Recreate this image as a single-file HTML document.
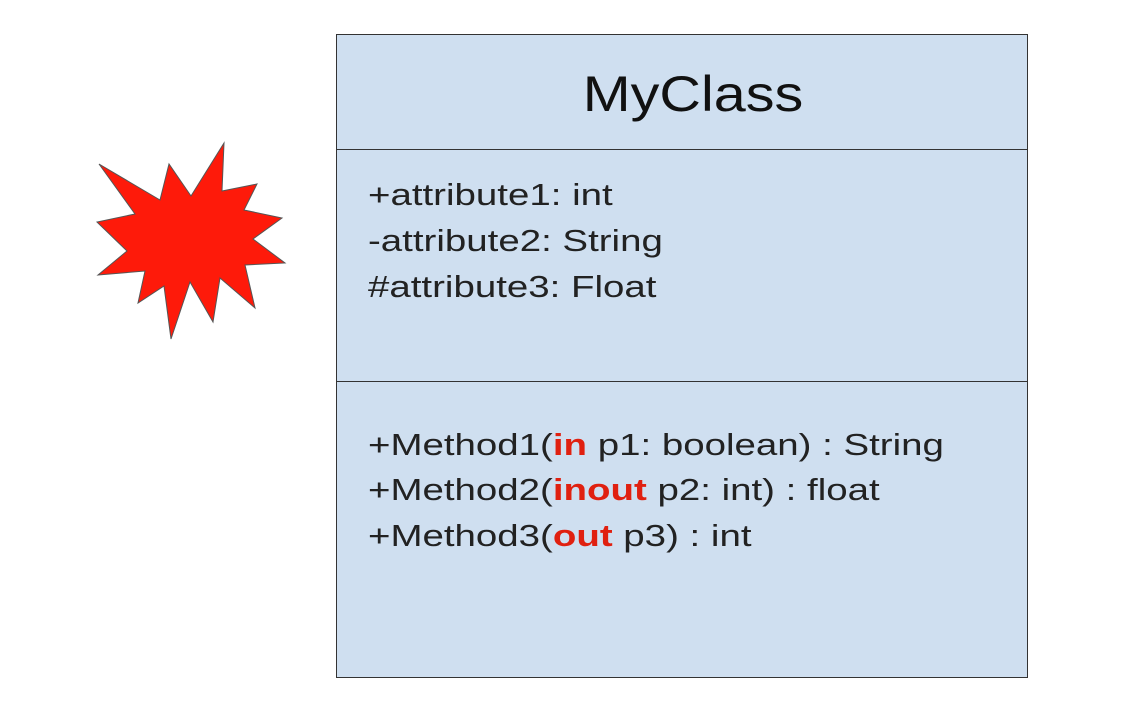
<!DOCTYPE html>
<html><head><style>
body{margin:0;width:1137px;height:711px;background:#fff;position:relative;overflow:hidden;font-family:"Liberation Sans",sans-serif;}
#box{position:absolute;left:336px;top:34px;width:690px;height:642px;background:#cfdff0;border:1px solid #333;}
.h{position:absolute;left:0;width:690px;height:1px;background:#333;}
.t{position:absolute;left:11px;width:690px;text-align:center;font-size:50px;color:#111;line-height:1;transform:scaleX(1.15);transform-origin:345px 0;}
.l{position:absolute;left:31px;font-size:31px;color:#222;line-height:1;white-space:nowrap;transform:scaleX(1.24);transform-origin:0 0;}
b{color:#e02010;}
</style></head><body>
<svg width="1137" height="711" style="position:absolute;left:0;top:0">
<polygon points="99,164 160,200 169,164 191,196 224,143 222,191 257,184 244,210 282,218 253,239 285,263 245,265 255,308 220,278 213,322 190,282 171,339 164,286 138,303 145,271 98,275 127,251 97,222 135,214" fill="#fe1a0a" stroke="#555" stroke-width="1"/>
</svg>
<div id="box">
<div class="t" style="top:34px">MyClass</div>
<div class="h" style="top:114px"></div>
<div class="h" style="top:346px"></div>
<div class="l" style="top:144px">+attribute1: int</div>
<div class="l" style="top:190px">-attribute2: String</div>
<div class="l" style="top:236px">#attribute3: Float</div>
<div class="l" style="top:394px">+Method1(<b>in</b> p1: boolean) : String</div>
<div class="l" style="top:439px">+Method2(<b>inout</b> p2: int) : float</div>
<div class="l" style="top:485px">+Method3(<b>out</b> p3) : int</div>
</div>
</body></html>
